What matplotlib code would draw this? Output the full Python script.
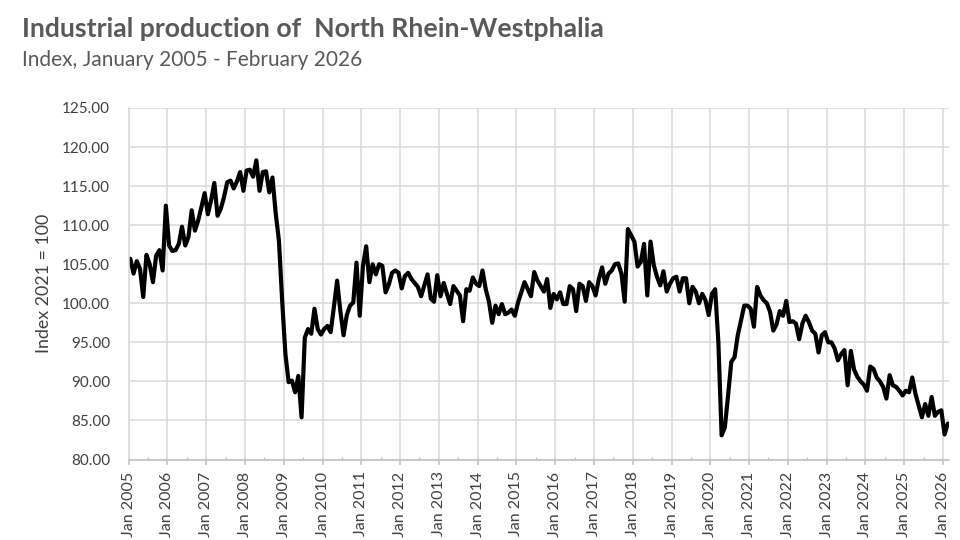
import matplotlib.pyplot as plt
import numpy as np
from matplotlib import font_manager
from matplotlib.ticker import FixedLocator, FormatStrFormatter

# Monthly index (2021 = 100)
y2005 = [105.7, 103.8, 105.4, 104.4, 100.8, 106.2, 105.0, 102.7, 106.1, 106.8, 104.2, 112.5]
y2006 = [107.4, 106.7, 106.8, 107.6, 109.8, 107.4, 108.5, 111.9, 109.3, 110.6, 112.3, 114.1]
y2007 = [111.4, 113.2, 115.4, 111.2, 112.1, 113.6, 115.5, 115.7, 114.7, 115.6, 116.8, 114.4]
y2008 = [117.0, 117.1, 116.2, 118.3, 114.4, 116.8, 116.9, 114.2, 116.1, 111.5, 108.0, 100.3]
y2009 = [93.5, 89.9, 90.1, 88.6, 90.7, 85.4, 95.6, 96.7, 96.1, 99.3, 96.7, 96.0]
y2010 = [96.7, 97.1, 96.3, 99.5, 102.9, 99.0, 95.9, 98.5, 99.7, 100.1, 105.2, 98.4]
y2011 = [104.8, 107.3, 102.7, 105.0, 103.7, 105.0, 104.8, 101.4, 102.4, 103.9, 104.2, 103.9]
y2012 = [101.9, 103.5, 103.9, 103.1, 102.6, 102.1, 100.9, 102.3, 103.7, 100.6, 100.2, 103.6]
y2013 = [100.9, 102.6, 101.2, 99.9, 102.2, 101.6, 101.0, 97.7, 101.8, 101.6, 103.3, 102.5]
y2014 = [102.2, 104.2, 101.8, 100.2, 97.5, 99.7, 98.6, 99.9, 98.6, 98.8, 99.2, 98.4]
y2015 = [100.1, 101.4, 102.7, 101.8, 100.9, 104.0, 102.9, 102.2, 101.5, 103.1, 99.4, 101.2]
y2016 = [100.5, 101.4, 99.9, 99.9, 102.2, 101.8, 99.0, 102.5, 102.2, 100.3, 102.7, 102.2]
y2017 = [101.0, 103.1, 104.6, 102.5, 103.8, 104.2, 105.0, 105.1, 103.8, 100.2, 109.5, 108.7]
y2018 = [107.9, 104.7, 105.3, 107.6, 101.0, 107.9, 104.9, 103.4, 102.3, 104.1, 101.5, 102.5]
y2019 = [103.2, 103.4, 101.5, 103.2, 103.2, 100.0, 102.1, 101.5, 100.0, 101.2, 100.4, 98.5]
y2020 = [101.2, 101.8, 95.0, 83.1, 84.1, 88.2, 92.5, 93.1, 95.9, 97.8, 99.7, 99.7]
y2021 = [99.3, 97.0, 102.1, 101.0, 100.4, 100.0, 98.9, 96.5, 97.3, 99.0, 98.4, 100.3]
y2022 = [97.6, 97.7, 97.4, 95.4, 97.4, 98.4, 97.6, 96.5, 96.1, 93.7, 95.9, 96.3]
y2023 = [95.0, 95.0, 94.2, 92.7, 93.5, 94.0, 89.5, 93.9, 91.5, 90.6, 90.0, 89.6]
y2024 = [88.8, 91.9, 91.6, 90.5, 90.0, 89.3, 87.8, 90.8, 89.5, 89.3, 88.8, 88.2]
y2025 = [88.8, 88.6, 90.5, 88.4, 86.9, 85.4, 87.1, 85.6, 88.0, 85.6, 86.1, 86.3]
y2026 = [83.2, 84.6]

years = list(range(2005, 2027))
tick_labels = [f"Jan {y}" for y in years]
y_ticks = [80, 85, 90, 95, 100, 105, 110, 115, 120, 125]

values = np.array(y2005 + y2006 + y2007 + y2008 + y2009 + y2010 + y2011 + y2012
                  + y2013 + y2014 + y2015 + y2016 + y2017 + y2018 + y2019 + y2020
                  + y2021 + y2022 + y2023 + y2024 + y2025 + y2026)
# category axis: each month sits in the middle of its slot
months = np.arange(len(values)) + 0.5

installed = {f.name for f in font_manager.fontManager.ttflist}
font = 'Lato' if 'Lato' in installed else 'DejaVu Sans'
plt.rcParams['font.family'] = [font, 'DejaVu Sans']

text_col = '#404040'
grid_col = '#d9d9d9'

fig = plt.figure(figsize=(9.6, 5.4), dpi=100)
ax = fig.add_axes([128.7 / 960, 1 - 459.5 / 540, (949.4 - 128.7) / 960, (459.5 - 108) / 540])

ax.plot(months, values, color='black', linewidth=3.0, solid_joinstyle='round', solid_capstyle='round')

ax.set_xlim(0, 254)
ax.set_ylim(80, 125)
ax.xaxis.set_major_locator(FixedLocator([12 * k for k in range(len(years))]))
ax.xaxis.set_minor_locator(FixedLocator([12 * k + 6 for k in range(len(years) - 1)]))
ax.set_xticklabels(tick_labels, rotation=90)
ax.set_yticks(y_ticks)
ax.yaxis.set_major_formatter(FormatStrFormatter('%.2f'))

ax.grid(True, which='major', color=grid_col, linewidth=1.1)
ax.set_axisbelow(True)
for side in ['top', 'right']:
    ax.spines[side].set_visible(False)
ax.spines['left'].set_color(grid_col)
ax.spines['left'].set_linewidth(1.1)
ax.spines['bottom'].set_color('#bfbfbf')
ax.spines['bottom'].set_linewidth(1.1)

ax.tick_params(axis='y', length=0, pad=13.5, labelsize=11, labelcolor=text_col)
ax.tick_params(axis='x', which='major', direction='out', length=3.6, width=1.1,
               color='#bfbfbf', pad=5, labelsize=11.5, labelcolor=text_col)
ax.tick_params(axis='x', which='minor', direction='in', length=2.5, width=1.0, color='#bfbfbf')

ax.set_ylabel('Index 2021 = 100', fontsize=12.8, color=text_col)
ax.yaxis.set_label_coords(-0.0935, 0.5)

fig.text(22 / 960, 1 - 36.7 / 540, 'Industrial production of  North Rhein-Westphalia',
         fontsize=19.2, fontweight='bold', color='#595959', va='baseline', ha='left')
fig.text(22 / 960, 1 - 66 / 540, 'Index, January 2005 - February 2026',
         fontsize=15, color='#595959', va='baseline', ha='left')

fig.savefig('out.png', dpi=100)
